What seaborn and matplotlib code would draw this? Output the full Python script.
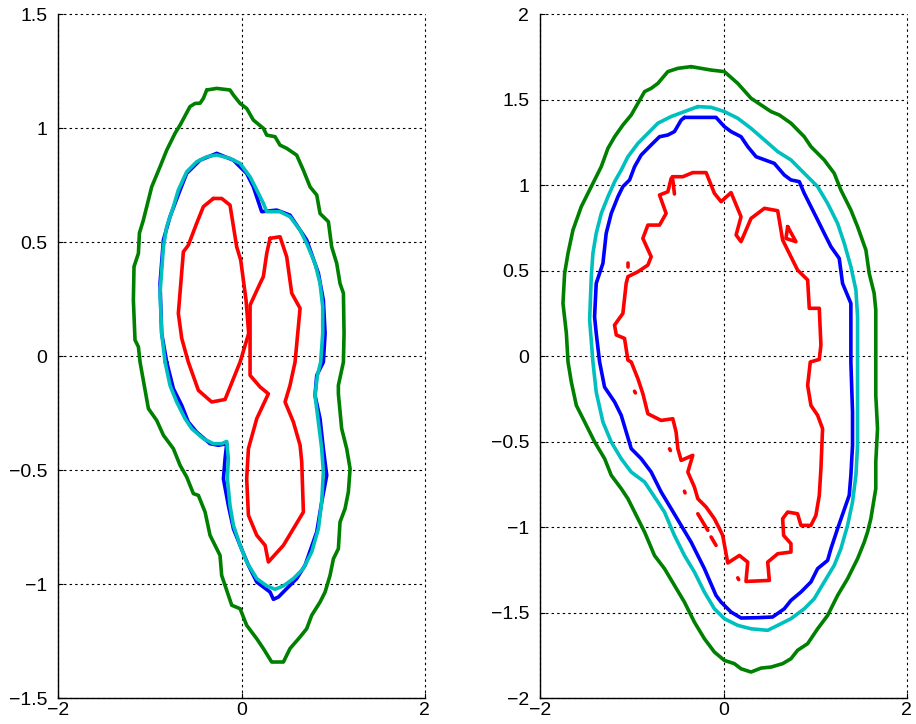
import matplotlib
matplotlib.use("Agg")
import matplotlib.pyplot as plt
import seaborn as sns
import numpy as np

# ---------------- data: left panel contours ----------------
left_green_x = [-0.380, -0.271, -0.126, -0.089, -0.016, 0.056, 0.129, 0.238, 0.275, 0.366, 0.420, 0.493, 0.602,
                0.675, 0.748, 0.821, 0.857, 0.948, 0.984, 1.039, 1.075, 1.112, 1.119, 1.112,
                1.057, 1.057, 1.093, 1.148, 1.185, 1.166, 1.130, 1.075, 1.057, 1.003, 0.966, 0.912, 0.857,
                0.766, 0.711, 0.639, 0.529, 0.457, 0.329, 0.238, 0.166, 0.056, -0.016, -0.107, -0.217,
                -0.235, -0.344, -0.398, -0.471, -0.526, -0.599, -0.671, -0.744, -0.853, -0.926, -1.017,
                -1.108, -1.126, -1.163, -1.181, -1.174, -1.126, -1.115, -1.072, -1.017, -0.981, -0.890,
                -0.817, -0.726, -0.671, -0.563, -0.508, -0.453, -0.417, -0.380]
left_green_y = [1.168, 1.175, 1.168, 1.146, 1.109, 1.087, 1.036, 1.000, 0.970, 0.963, 0.926, 0.912, 0.882,
                0.816, 0.743, 0.707, 0.626, 0.590, 0.480, 0.407, 0.319, 0.276, 0.100, -0.026,
                -0.128, -0.165, -0.318, -0.406, -0.494, -0.596, -0.669, -0.728, -0.845, -0.889, -0.962,
                -1.035, -1.079, -1.137, -1.196, -1.232, -1.283, -1.342, -1.342, -1.283, -1.240, -1.181,
                -1.108, -1.093, -0.962, -0.874, -0.786, -0.684, -0.611, -0.603, -0.530, -0.479, -0.406,
                -0.347, -0.282, -0.230, -0.026, 0.041, 0.071, 0.246, 0.393, 0.451, 0.540, 0.597, 0.685,
                0.743, 0.831, 0.904, 0.978, 1.014, 1.095, 1.109, 1.110, 1.131, 1.168]

left_blue_x = [-0.817, -0.872, -0.890, -0.853, -0.781, -0.671, -0.599, -0.453, -0.271, -0.089, 0.056, 0.129,
               0.220, 0.384, 0.529, 0.711, 0.839, 0.893, 0.912, 0.893, 0.821, 0.802, 0.857, 0.893, 0.930,
               0.875, 0.821, 0.693, 0.602, 0.493, 0.402, 0.348, 0.311, 0.166, 0.075, -0.016, -0.089,
               -0.144, -0.198, -0.180, -0.162, -0.253, -0.344, -0.490, -0.581, -0.653, -0.744, -0.817]
left_blue_y = [-0.026, 0.100, 0.319, 0.510, 0.612, 0.729, 0.802, 0.860, 0.890, 0.860, 0.802, 0.743, 0.634,
               0.641, 0.619, 0.510, 0.364, 0.246, 0.100, -0.026, -0.084, -0.172, -0.274, -0.406, -0.523,
               -0.640, -0.771, -0.918, -0.976, -1.020, -1.057, -1.067, -1.035, -0.991, -0.918, -0.830,
               -0.757, -0.655, -0.538, -0.450, -0.384, -0.391, -0.384, -0.333, -0.289, -0.216, -0.143,
               -0.026]

left_cyan_x = [-0.835, -0.872, -0.890, -0.853, -0.817, -0.744, -0.690, -0.599, -0.490, -0.380, -0.271,
               -0.126, -0.016, 0.093, 0.166, 0.238, 0.275, 0.420, 0.529, 0.639, 0.711, 0.802, 0.857, 0.886,
               0.886, 0.864, 0.828, 0.802, 0.839, 0.875, 0.893, 0.875, 0.839, 0.766, 0.675, 0.566, 0.457,
               0.366, 0.275, 0.166, 0.056, -0.016, -0.089, -0.126, -0.155, -0.144, -0.162, -0.217,
               -0.308, -0.417, -0.544, -0.617, -0.708, -0.781, -0.835]
left_cyan_y = [-0.026, 0.100, 0.276, 0.480, 0.568, 0.656, 0.729, 0.809, 0.853, 0.875, 0.883, 0.868, 0.846,
               0.787, 0.729, 0.671, 0.634, 0.634, 0.612, 0.553, 0.495, 0.407, 0.319, 0.217, 0.100,
               -0.026, -0.084, -0.172, -0.289, -0.406, -0.508, -0.640, -0.757, -0.859, -0.932, -0.976,
               -1.008, -1.023, -1.008, -0.976, -0.903, -0.830, -0.742, -0.655, -0.538, -0.450, -0.374,
               -0.384, -0.384, -0.362, -0.318, -0.274, -0.201, -0.128, -0.026]

left_red1_x = [-0.308, -0.217, -0.126, -0.053, -0.009, 0.049, 0.078, -0.016, -0.180, -0.326, -0.471,
               -0.581, -0.653, -0.690, -0.635, -0.581, -0.490, -0.417, -0.308]
left_red1_y = [0.692, 0.692, 0.663, 0.480, 0.421, 0.246, 0.100, -0.026, -0.190, -0.201, -0.150,
               -0.026, 0.078, 0.188, 0.458, 0.487, 0.583, 0.656, 0.692]

left_red2_x = [0.311, 0.420, 0.493, 0.548, 0.639, 0.584, 0.529, 0.475, 0.566, 0.639, 0.657, 0.675, 0.457,
               0.293, 0.257, 0.166, 0.075, 0.056, 0.075, 0.166, 0.293, 0.202, 0.093, 0.093, 0.093, 0.202,
               0.238, 0.275, 0.311]
left_red2_y = [0.517, 0.524, 0.436, 0.276, 0.210, -0.026, -0.128, -0.201, -0.289, -0.391, -0.464, -0.684,
               -0.830, -0.903, -0.830, -0.786, -0.698, -0.538, -0.406, -0.274, -0.165, -0.135, -0.084,
               -0.026, 0.224, 0.319, 0.349, 0.451, 0.517]

# ---------------- data: right panel contours ----------------
right_green_x = [-0.354, -0.136, 0.009, 0.155, 0.300, 0.518, 0.609, 0.736, 0.881, 0.954, 1.099, 1.208,
                 1.281, 1.390, 1.463, 1.554, 1.590, 1.644, 1.662, 1.662, 1.662, 1.681, 1.662, 1.662, 1.608,
                 1.572, 1.536, 1.463, 1.354, 1.245, 1.136, 1.027, 0.918, 0.808, 0.736, 0.645, 0.518, 0.409,
                 0.300, 0.191, 0.118, 0.009, -0.100, -0.209, -0.318, -0.427, -0.536, -0.645, -0.754,
                 -0.862, -0.971, -1.044, -1.117, -1.226, -1.298, -1.407, -1.516, -1.607, -1.662, -1.698,
                 -1.716, -1.753, -1.735, -1.698, -1.644, -1.553, -1.444, -1.335, -1.262, -1.189, -1.098,
                 -1.008, -0.862, -0.790, -0.717, -0.608, -0.499, -0.354]
right_green_y = [1.694, 1.674, 1.665, 1.596, 1.509, 1.431, 1.411, 1.363, 1.284, 1.226, 1.148, 1.070,
                 0.972, 0.855, 0.758, 0.621, 0.485, 0.368, 0.270, -0.034, -0.229, -0.424, -0.619, -0.775,
                 -0.951, -1.029, -1.088, -1.185, -1.302, -1.400, -1.517, -1.595, -1.682, -1.721, -1.770,
                 -1.799, -1.819, -1.825, -1.848, -1.829, -1.799, -1.780, -1.731, -1.653, -1.556, -1.439,
                 -1.341, -1.243, -1.166, -1.029, -0.912, -0.834, -0.775, -0.697, -0.600, -0.502, -0.385,
                 -0.288, -0.151, -0.034, 0.134, 0.309, 0.485, 0.602, 0.738, 0.875, 0.992, 1.109, 1.216,
                 1.284, 1.353, 1.411, 1.548, 1.567, 1.596, 1.665, 1.684, 1.694]

right_cyan_x = [-0.281, -0.136, 0.009, 0.155, 0.300, 0.446, 0.591, 0.736, 0.881, 1.027, 1.136, 1.245,
                1.318, 1.390, 1.445, 1.463, 1.463, 1.463, 1.463, 1.445, 1.408, 1.354, 1.281, 1.208, 1.099,
                0.990, 0.881, 0.736, 0.591, 0.482, 0.300, 0.155, 0.009, -0.100, -0.209, -0.318, -0.427,
                -0.536, -0.645, -0.717, -0.862, -1.008, -1.117, -1.226, -1.317, -1.390, -1.426, -1.462,
                -1.444, -1.426, -1.390, -1.335, -1.262, -1.189, -1.117, -1.044, -0.935, -0.826, -0.717,
                -0.572, -0.427, -0.281]
right_cyan_y = [1.460, 1.456, 1.431, 1.392, 1.333, 1.265, 1.197, 1.148, 1.070, 0.992, 0.894, 0.777,
                0.660, 0.524, 0.387, 0.231, -0.034, -0.327, -0.522, -0.697, -0.853, -0.990, -1.127,
                -1.224, -1.321, -1.419, -1.478, -1.536, -1.575, -1.604, -1.595, -1.575, -1.536, -1.478,
                -1.380, -1.263, -1.166, -1.049, -0.912, -0.853, -0.736, -0.678, -0.600, -0.502, -0.385,
                -0.210, -0.034, 0.212, 0.465, 0.602, 0.719, 0.835, 0.933, 1.021, 1.089, 1.167, 1.245,
                1.304, 1.363, 1.402, 1.431, 1.460]

right_blue_x = [-0.427, -0.082, 0.009, 0.082, 0.191, 0.264, 0.355, 0.554, 0.663, 0.736, 0.827, 0.881,
                0.954, 1.027, 1.099, 1.172, 1.263, 1.299, 1.390, 1.390, 1.408, 1.408, 1.390, 1.372, 1.245,
                1.172, 1.136, 1.027, 0.954, 0.845, 0.736, 0.663, 0.536, 0.373, 0.191, 0.082, -0.027,
                -0.082, -0.209, -0.281, -0.354, -0.463, -0.572, -0.681, -0.790, -0.899, -1.008, -1.117,
                -1.189, -1.299, -1.353, -1.390, -1.408, -1.390, -1.317, -1.281, -1.226, -1.153, -1.099,
                -1.026, -0.971, -0.899, -0.790, -0.699, -0.608, -0.536, -0.463, -0.427]
right_blue_y = [1.397, 1.397, 1.343, 1.314, 1.284, 1.226, 1.167, 1.128, 1.060, 1.031, 1.021, 0.953,
                0.875, 0.797, 0.719, 0.641, 0.572, 0.426, 0.309, -0.034, -0.327, -0.522, -0.697, -0.814,
                -1.009, -1.127, -1.195, -1.243, -1.321, -1.380, -1.429, -1.478, -1.526, -1.530, -1.532,
                -1.497, -1.439, -1.400, -1.243, -1.166, -1.088, -0.990, -0.892, -0.795, -0.678, -0.600,
                -0.541, -0.346, -0.268, -0.181, -0.034, 0.134, 0.231, 0.426, 0.543, 0.719, 0.835, 0.933,
                0.992, 1.031, 1.109, 1.177, 1.236, 1.284, 1.294, 1.314, 1.381, 1.397]

right_red_x = [-0.554, -0.445, -0.336, -0.190, -0.100, -0.027, 0.082, 0.191, 0.137, 0.191, 0.300, 0.446,
               0.591, 0.645, 0.808, 0.918, 0.936, 1.045, 1.063, 1.045, 0.947, 0.918, 0.954, 1.027, 1.081,
               1.063, 1.045, 1.008, 0.954, 0.845, 0.808, 0.700, 0.645, 0.656, 0.736, 0.736, 0.591, 0.482,
               0.500, 0.245, 0.264, 0.173, 0.046, -0.009, -0.045, -0.100, -0.190, -0.281, -0.318, -0.390,
               -0.336, -0.463, -0.499, -0.518, -0.554, -0.681, -0.826, -0.881, -0.935, -1.008, -1.044,
               -1.081, -1.171, -1.190, -1.099, -1.063, -1.044, -0.935, -0.826, -0.790, -0.881, -0.826,
               -0.699, -0.627, -0.699, -0.608, -0.572, -0.554]
right_red_y = [1.050, 1.050, 1.074, 1.074, 0.953, 0.904, 0.957, 0.816, 0.709, 0.670, 0.806, 0.865,
               0.851, 0.680, 0.504, 0.446, 0.280, 0.280, 0.065, -0.019, -0.034, -0.171, -0.288, -0.346,
               -0.424, -0.658, -0.815, -0.932, -0.990, -0.990, -0.922, -0.912, -0.951, -1.049, -1.097,
               -1.146, -1.156, -1.205, -1.312, -1.318, -1.205, -1.166, -1.210, -1.049, -1.009, -0.951,
               -0.883, -0.834, -0.766, -0.678, -0.580, -0.610, -0.541, -0.444, -0.366, -0.376, -0.337,
               -0.219, -0.132, -0.034, -0.023, 0.104, 0.124, 0.182, 0.250, 0.426, 0.465, 0.494, 0.533,
               0.582, 0.689, 0.767, 0.767, 0.835, 0.943, 0.962, 1.040, 1.050]

# small isolated red fragments (start x, start y, end x, end y)
right_red_bits_x0 = [-0.554, -1.041, -0.972, -0.590, -0.427, -0.281, -0.136, 0.155]
right_red_bits_y0 = [1.031, 0.523, -0.205, -0.542, -0.790, -0.922, -1.058, -1.297]
right_red_bits_x1 = [-0.536, -1.041, -0.962, -0.580, -0.420, -0.172, -0.082, 0.165]
right_red_bits_y1 = [0.949, 0.545, -0.215, -0.552, -0.800, -1.019, -1.107, -1.307]
right_red_tri_x = [0.700, 0.681, 0.790, 0.700]
right_red_tri_y = [0.758, 0.689, 0.670, 0.758]

# ticks
left_xticks = [-2, 0, 2]
left_yticks = [-1.5, -1, -0.5, 0, 0.5, 1, 1.5]
right_xticks = [-2, 0, 2]
right_yticks = [-2, -1.5, -1, -0.5, 0, 0.5, 1, 1.5, 2]

# ---------------- styling ----------------
GREEN = "#008000"
BLUE = "#0000ff"
CYAN = "#00bfbf"
RED = "#ff0000"
LW = 2.6

sns.set_style("white")
plt.rcParams["font.family"] = ["Liberation Sans", "DejaVu Sans"]

fig = plt.figure(figsize=(9.16, 7.24), dpi=100)
axL = fig.add_axes([0.0637, 0.0359, 0.4, 0.9443])
axR = fig.add_axes([0.5899, 0.0359, 0.4, 0.9443])


def line(ax, x, y, color):
    sns.lineplot(x=x, y=y, sort=False, estimator=None, color=color, lw=LW, ax=ax,
                 solid_joinstyle="round", solid_capstyle="round")


def fmt(v):
    s = f"{v:g}"
    return s.replace("-", "\u2212")


def style(ax, xt, yt, ylim):
    ax.set_xlim(-2, 2)
    ax.set_ylim(*ylim)
    ax.set_xticks(xt)
    ax.set_yticks(yt)
    ax.set_xticklabels([fmt(v) for v in xt])
    ax.set_yticklabels([fmt(v) for v in yt])
    ax.grid(True, color="black", linestyle=(0, (2.2, 2.8)), linewidth=0.8)
    for gl in ax.get_xgridlines() + ax.get_ygridlines():
        gl.set_clip_on(False)
    ax.set_axisbelow(True)
    for s in ["top", "right"]:
        ax.spines[s].set_visible(False)
    for s in ["left", "bottom"]:
        ax.spines[s].set_visible(True)
        ax.spines[s].set_color("black")
        ax.spines[s].set_linewidth(1.0)
    ax.tick_params(direction="in", length=3.5, width=0.8, colors="black",
                   left=True, bottom=True, top=False, right=False)
    ax.tick_params(axis="y", labelsize=14, pad=8)
    ax.tick_params(axis="x", labelsize=14, pad=3)
    ax.set_xlabel("")
    ax.set_ylabel("")


# left panel
line(axL, left_green_x, left_green_y, GREEN)
line(axL, left_blue_x, left_blue_y, BLUE)
line(axL, left_cyan_x, left_cyan_y, CYAN)
line(axL, left_red1_x, left_red1_y, RED)
line(axL, left_red2_x, left_red2_y, RED)
style(axL, left_xticks, left_yticks, (-1.5, 1.5))

# right panel
line(axR, right_green_x, right_green_y, GREEN)
line(axR, right_blue_x, right_blue_y, BLUE)
line(axR, right_cyan_x, right_cyan_y, CYAN)
line(axR, right_red_x, right_red_y, RED)
for x0, y0, x1, y1 in zip(right_red_bits_x0, right_red_bits_y0, right_red_bits_x1, right_red_bits_y1):
    line(axR, [x0, x1], [y0, y1], RED)
line(axR, right_red_tri_x, right_red_tri_y, RED)
style(axR, right_xticks, right_yticks, (-2, 2))

fig.savefig("out.png", dpi=100)
